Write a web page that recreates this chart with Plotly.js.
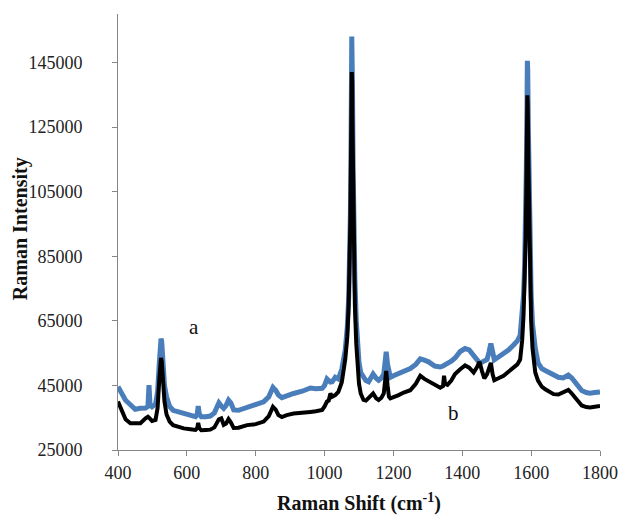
<!DOCTYPE html>
<html>
<head>
<meta charset="utf-8">
<script src="https://cdn.plot.ly/plotly-3.0.1.min.js"></script>
<style>html,body{margin:0;padding:0;background:#fff;}#chart{width:621px;height:516px;}</style>
</head>
<body>
<div id="chart"></div>
<script>
// Raman shift (cm-1)
const ramanShift = [400, 410, 422, 436, 450, 465, 480, 487, 490, 493, 499, 509, 515, 520, 523, 525, 527, 530, 535, 541, 550, 560, 575, 591, 610, 625, 630, 633, 636, 642, 655, 668, 680, 693, 700, 707, 714, 721, 728, 736, 750, 775, 800, 823, 838, 850, 858, 866, 876, 890, 910, 935, 959, 975, 993, 1000, 1007, 1012, 1017, 1022, 1031, 1040, 1050, 1060, 1066, 1070, 1073, 1075, 1077, 1078, 1079, 1080, 1081, 1083, 1085, 1088, 1092, 1096, 1100, 1105, 1113, 1120, 1128, 1134, 1141, 1150, 1157, 1165, 1172, 1176, 1179, 1183, 1187, 1191, 1200, 1215, 1230, 1249, 1265, 1278, 1290, 1302, 1320, 1336, 1344, 1347, 1350, 1357, 1368, 1379, 1394, 1408, 1420, 1433, 1442, 1450, 1457, 1464, 1472, 1478, 1483, 1488, 1493, 1505, 1520, 1535, 1549, 1560, 1568, 1574, 1578, 1581, 1584, 1586, 1588, 1589, 1590, 1592, 1594, 1597, 1600, 1604, 1608, 1612, 1620, 1631, 1641, 1655, 1665, 1679, 1693, 1708, 1718, 1733, 1747, 1760, 1771, 1785, 1800];

// Spectrum a (blue)
const intensityA = [44600, 43000, 40400, 39000, 37600, 37900, 38000, 38500, 45100, 39000, 38400, 39200, 43000, 52000, 58000, 59500, 58500, 53000, 45000, 41500, 38500, 37300, 36800, 36300, 35800, 35300, 36000, 38600, 36200, 35300, 35300, 35500, 36500, 39600, 38600, 37900, 38800, 40400, 39500, 37400, 37300, 38200, 39000, 39900, 41500, 44400, 43500, 42000, 41200, 41800, 42500, 43200, 44200, 44000, 44100, 45000, 47000, 46500, 46000, 46100, 47500, 47000, 50000, 56000, 63000, 72000, 84000, 98000, 122000, 138000, 153000, 151000, 138000, 112000, 94000, 78000, 65000, 57000, 52000, 49000, 47200, 46500, 46100, 47500, 48500, 47200, 46600, 47300, 48500, 52500, 55400, 51500, 48000, 47500, 48000, 48600, 49500, 50200, 51500, 53200, 52800, 52300, 51000, 50700, 51000, 51300, 51500, 51800, 52500, 53500, 55500, 56400, 56000, 54400, 53300, 52000, 52200, 52500, 53000, 55500, 58000, 55500, 52900, 53800, 54800, 56000, 57500, 58800, 60500, 66000, 73000, 82000, 96000, 112000, 132000, 145500, 143000, 124000, 104000, 85000, 73000, 64000, 59000, 56500, 52000, 50200, 49600, 48700, 48300, 47500, 47300, 48200, 47300, 45100, 43400, 42800, 42600, 42800, 43000];

// Spectrum b (black)
const intensityB = [40000, 37500, 34500, 33300, 33200, 33300, 34800, 35300, 35000, 34500, 34000, 34300, 38000, 47000, 52500, 53500, 52500, 47500, 40000, 36000, 33800, 32700, 32200, 31700, 31400, 31200, 31800, 33400, 31800, 31100, 31200, 31300, 32000, 34500, 34800, 32800, 33200, 34600, 33500, 31800, 31900, 32700, 33000, 33800, 35500, 38400, 37500, 35800, 35200, 35800, 36300, 36700, 36800, 37000, 37400, 38500, 40000, 40300, 42500, 41500, 42000, 43000, 46000, 53000, 60000, 70000, 82000, 96000, 118000, 130000, 142000, 139000, 126000, 102000, 86000, 70000, 58000, 50000, 45500, 42500, 40500, 40300, 41300, 42000, 42500, 41000, 40500, 41200, 42500, 46500, 49500, 45000, 41500, 41000, 41500, 42000, 42800, 43500, 45500, 48000, 47000, 46300, 45300, 44300, 44800, 48000, 45500, 45200, 46500, 48500, 50000, 51200, 50500, 49000, 50500, 52300, 49500, 47200, 48500, 51000, 52000, 48500, 46600, 47200, 48000, 49300, 50500, 51500, 53000, 59000, 67000, 77000, 90000, 105000, 123000, 134800, 132000, 114000, 95000, 77000, 65000, 56500, 51500, 49000, 46500, 44600, 43800, 43000, 42300, 42200, 42800, 43600, 42500, 40800, 38800, 38300, 38200, 38400, 38600];

const xTicks = [400, 600, 800, 1000, 1200, 1400, 1600, 1800];
const yTicks = [25000, 45000, 65000, 85000, 105000, 125000, 145000];
const seriesLabels = ['a', 'b'];
const labelX = [620, 1374];
const labelY = [63100, 36350];
const yTitle = 'Raman Intensity';
const xTitle = 'Raman Shift (cm<sup>-1</sup>)';

const serif = '"Liberation Serif", "Times New Roman", serif';
const axisCommon = {
  showgrid: false, zeroline: false, showline: true,
  linecolor: '#868686', linewidth: 1,
  ticks: 'outside', tickcolor: '#868686', ticklen: 5, tickwidth: 1,
  tickfont: {family: serif, size: 18, color: '#222'}
};

const data = [
  {x: ramanShift, y: intensityA, type: 'scatter', mode: 'lines', name: 'a',
   line: {color: '#4a7ebb', width: 5}},
  {x: ramanShift, y: intensityB, type: 'scatter', mode: 'lines', name: 'b',
   line: {color: '#000000', width: 4}}
];

const annotations = seriesLabels.map((t, i) => ({
  x: labelX[i], y: labelY[i], xref: 'x', yref: 'y', text: t, showarrow: false,
  font: {family: serif, size: 21, color: '#111'}, xanchor: 'center', yanchor: 'middle'
}));
annotations.push({
  x: -0.202, y: 0.508, xref: 'paper', yref: 'paper', text: yTitle, showarrow: false,
  textangle: -90, xanchor: 'center', yanchor: 'middle',
  font: {family: serif, size: 20, color: '#111', weight: 'bold'}
});

const layout = {
  width: 621, height: 516,
  margin: {l: 117.5, r: 21, t: 13.5, b: 66},
  paper_bgcolor: '#fff', plot_bgcolor: '#fff',
  showlegend: false,
  xaxis: Object.assign({}, axisCommon, {
    range: [400, 1800], tickvals: xTicks, ticktext: xTicks.map(String),
    ticklabelstandoff: 1,
    title: {text: xTitle, font: {family: serif, size: 20, color: '#111', weight: 'bold'}, standoff: 14}
  }),
  yaxis: Object.assign({}, axisCommon, {
    range: [25000, 160000], tickvals: yTicks, ticktext: yTicks.map(String),
    ticklabelstandoff: 26
  }),
  annotations: annotations
};

Plotly.newPlot('chart', data, layout, {staticPlot: true, displayModeBar: false});
</script>
</body>
</html>
